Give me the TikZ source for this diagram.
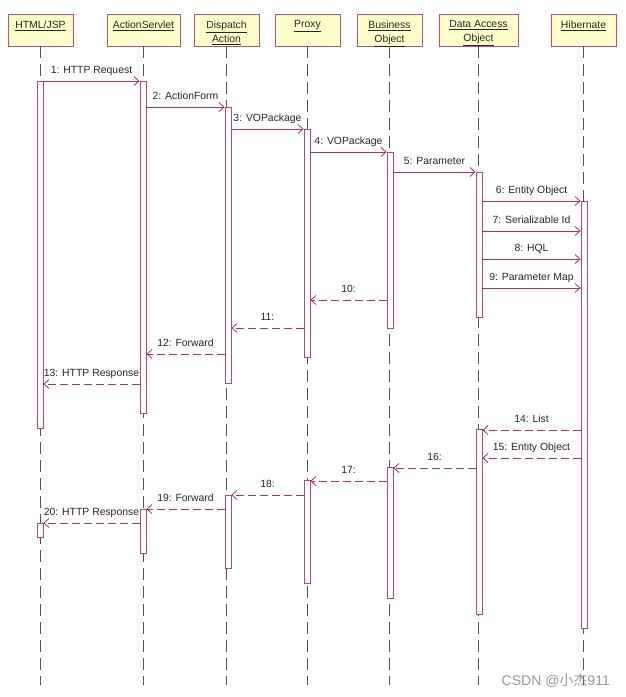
\documentclass[tikz,border=0pt]{standalone}
\usepackage{fontspec}
\setmainfont{Liberation Sans}
\newfontfamily\cjk{Noto Sans CJK SC}
\usetikzlibrary{arrows.meta,calc}
\definecolor{ln}{RGB}{176,48,96}
\definecolor{barc}{RGB}{190,70,115}
\definecolor{hdr}{RGB}{255,255,204}
\definecolor{hdrb}{RGB}{200,80,120}
\definecolor{life}{RGB}{85,85,85}
\newcommand{\actbar}[4]{\node[actbar, minimum height=#4-#3] (#1) at (#2,#3) {};}
\begin{document}
\begin{tikzpicture}[x=1pt,y=-1pt, font=\fontsize{10.4}{13.5}\selectfont,
  head/.style={draw=hdrb, fill=hdr, line width=0.9pt, inner sep=0pt, minimum height=32pt},
  headtxt/.style={anchor=north, inner sep=0pt, align=center, text=black!85},
  actbar/.style={draw=barc, fill=white, line width=0.8pt, minimum width=6pt, inner sep=0pt, anchor=north},
  msg/.style={draw=ln, line width=0.8pt, -{Straight Barb[length=5pt,width=9pt]}},
  ret/.style={msg, dash pattern=on 8pt off 4pt},
  lifeline/.style={draw=life, line width=0.8pt, dash pattern=on 12pt off 6pt},
  lbl/.style={above=4pt, inner sep=1pt, text depth=2.2pt, text=black!85}]
\useasboundingbox (0,0) rectangle (625,697);
% headers
\node[head, minimum width=65pt] (hHtml) at (40.5,30) {};
\node[head, minimum width=73pt] (hAs) at (143.5,30) {};
\node[head, minimum width=65pt] (hDa) at (226.5,30) {};
\node[head, minimum width=65pt] (hPx) at (307.5,30) {};
\node[head, minimum width=65pt] (hBo) at (389.5,30) {};
\node[head, minimum width=79pt] (hDao) at (478.5,30) {};
\node[head, minimum width=65pt] (hHb) at (583.5,30) {};
\node[headtxt] (tHtml) at ($(hHtml.north)+(0,7)$) {\underline{HTML/JSP}};
\node[headtxt] (tAs) at ($(hAs.north)+(0,7)$) {\underline{ActionServlet}};
\node[headtxt] (tDa) at ($(hDa.north)+(0,7)$) {\underline{Dispatch}\\[0.5pt]\underline{Action}};
\node[headtxt] (tPx) at ($(hPx.north)+(0,7)$) {\underline{Proxy}};
\node[headtxt] (tBo) at ($(hBo.north)+(0,7)$) {\underline{Business}\\[0.5pt]\underline{Object}};
\node[headtxt] (tDao) at ($(hDao.north)+(0,7)$) {\underline{Data Access}\\[0.5pt]\underline{Object}};
\node[headtxt] (tHb) at ($(hHb.north)+(0,7)$) {\underline{Hibernate}};
% lifelines
\foreach \h in {hHtml,hAs,hDa,hPx,hBo,hDao,hHb}
  \draw[lifeline] (\h.south) -- (\h.south |- 0,685);
% activation bars
\actbar{a1}{40}{81}{428}
\actbar{s1}{143}{81}{413}
\actbar{d1}{228}{107}{383}
\actbar{p1}{307}{129}{357}
\actbar{b1}{390}{152}{328}
\actbar{o1}{479}{172}{317}
\actbar{h1}{584}{201}{628}
\actbar{o2}{479}{429}{614}
\actbar{b2}{390}{467}{598}
\actbar{p2}{307}{480}{583}
\actbar{d2}{228}{495}{568}
\actbar{s2}{143}{509}{553}
\actbar{a2}{40}{523}{537}
% messages
\draw[msg] (a1.east |- 0,81) -- node[lbl] {1: HTTP Request} (s1.west |- 0,81);
\draw[msg] (s1.east |- 0,107) -- node[lbl] {2: ActionForm} (d1.west |- 0,107);
\draw[msg] (d1.east |- 0,129) -- node[lbl] {3: VOPackage} (p1.west |- 0,129);
\draw[msg] (p1.east |- 0,152) -- node[lbl] {4: VOPackage} (b1.west |- 0,152);
\draw[msg] (b1.east |- 0,172) -- node[lbl] {5: Parameter} (o1.west |- 0,172);
\draw[msg] (o1.east |- 0,201) -- node[lbl] {6: Entity Object} (h1.west |- 0,201);
\draw[msg] (o1.east |- 0,231) -- node[lbl] {7: Serializable Id} (h1.west |- 0,231);
\draw[msg] (o1.east |- 0,259) -- node[lbl] {8: HQL} (h1.west |- 0,259);
\draw[msg] (o1.east |- 0,288) -- node[lbl] {9: Parameter Map} (h1.west |- 0,288);
\draw[ret] (b1.west |- 0,300) -- node[lbl] {10:} (p1.east |- 0,300);
\draw[ret] (p1.west |- 0,328) -- node[lbl] {11:} (d1.east |- 0,328);
\draw[ret] (d1.west |- 0,354) -- node[lbl] {12: Forward} (s1.east |- 0,354);
\draw[ret] (s1.west |- 0,384) -- node[lbl] {13: HTTP Response} (a1.east |- 0,384);
\draw[ret] (h1.west |- 0,430) -- node[lbl] {14: List} (o2.east |- 0,430);
\draw[ret] (h1.west |- 0,458) -- node[lbl] {15: Entity Object} (o2.east |- 0,458);
\draw[ret] (o2.west |- 0,468) -- node[lbl] {16:} (b2.east |- 0,468);
\draw[ret] (b2.west |- 0,481) -- node[lbl] {17:} (p2.east |- 0,481);
\draw[ret] (p2.west |- 0,495) -- node[lbl] {18:} (d2.east |- 0,495);
\draw[ret] (d2.west |- 0,509) -- node[lbl] {19: Forward} (s2.east |- 0,509);
\draw[ret] (s2.west |- 0,523) -- node[lbl] {20: HTTP Response} (a2.east |- 0,523);
% watermark
\node[anchor=east, text=black!40, font=\fontsize{14}{16}\selectfont, inner sep=0pt] (wm) at (610,681) {CSDN @{\cjk 小杰}911};
\end{tikzpicture}
\end{document}
